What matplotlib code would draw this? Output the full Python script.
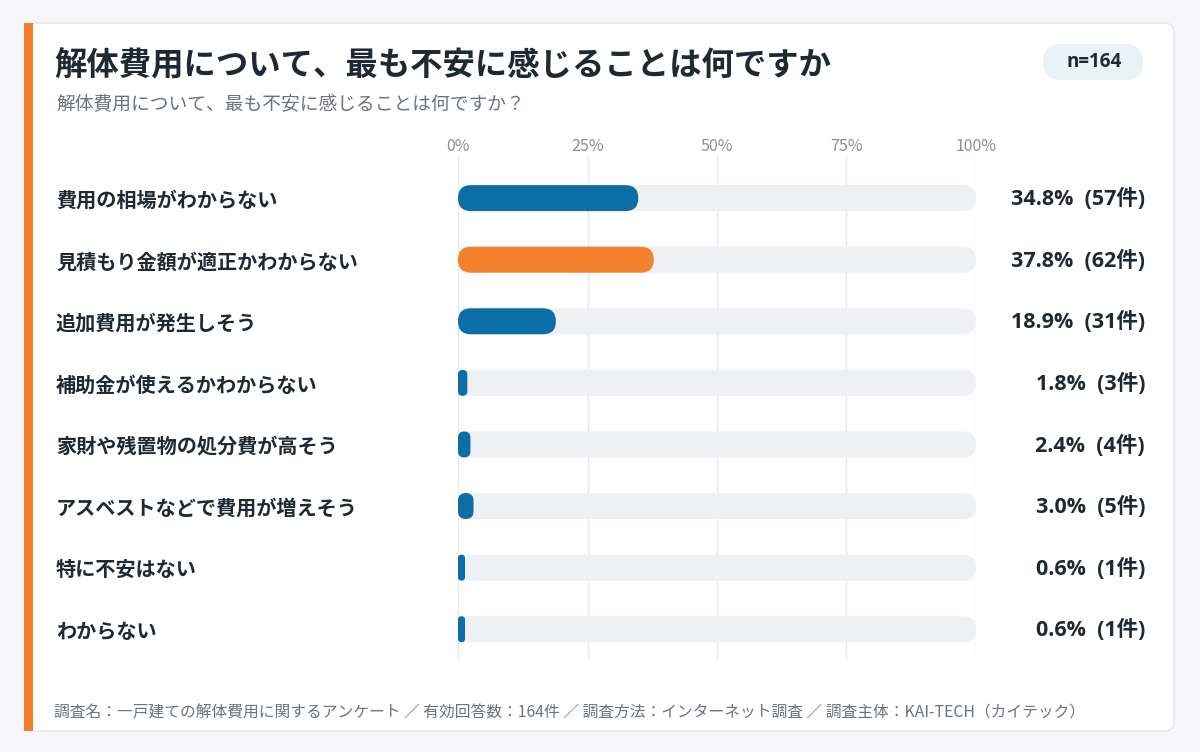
import matplotlib
matplotlib.use('Agg')
import matplotlib.pyplot as plt
from matplotlib.patches import FancyBboxPatch, Rectangle

plt.rcParams['font.family'] = ['Noto Sans CJK JP', 'DejaVu Sans']
LATIN = ['Open Sans', 'Noto Sans CJK JP']  # wider latin digits, CJK falls back

# data
categories = ['費用の相場がわからない', '見積もり金額が適正かわからない', '追加費用が発生しそう',
              '補助金が使えるかわからない', '家財や残置物の処分費が高そう', 'アスベストなどで費用が増えそう',
              '特に不安はない', 'わからない']
percents = [34.8, 37.8, 18.9, 1.8, 2.4, 3.0, 0.6, 0.6]
counts = [57, 62, 31, 3, 4, 5, 1, 1]
xticks = [0, 25, 50, 75, 100]
title = '解体費用について、最も不安に感じることは何ですか'
subtitle = '解体費用について、最も不安に感じることは何ですか？'
n_label = 'n=164'
footer = '調査名：一戸建ての解体費用に関するアンケート ／ 有効回答数：164件 ／ 調査方法：インターネット調査 ／ 調査主体：KAI-TECH（カイテック）'

BLUE = '#0b6ea6'
ORANGE = '#f5802e'
TRACK = '#eef0f4'
DARK = '#1f2933'
GRAY = '#6b7280'

W, H = 1200, 752
fig = plt.figure(figsize=(W / 100, H / 100), dpi=100)
fig.patch.set_facecolor('#f6f6f8')

# background layer in pixel coords
bg = fig.add_axes([0, 0, 1, 1], zorder=0)
bg.set_xlim(0, W)
bg.set_ylim(H, 0)
bg.axis('off')

bg.add_patch(FancyBboxPatch((26, 23), 1148, 708, boxstyle='round,pad=0,rounding_size=10',
                            facecolor='white', edgecolor='#e4e6eb', linewidth=1.0))
bg.add_patch(Rectangle((24, 23), 9, 708, facecolor='#f07c2c', edgecolor='none'))
bg.add_patch(FancyBboxPatch((1043, 44), 100, 36, boxstyle='round,pad=0,rounding_size=18',
                            facecolor='#e9f2f7', edgecolor='none'))
bg.text(1094, 62, n_label, ha='center', va='center', fontsize=13.5, fontweight='bold',
        color=DARK, family=LATIN)
bg.text(54, 66, title, ha='left', va='center', fontsize=23.3, fontweight='bold', color=DARK)
bg.text(56, 104, subtitle, ha='left', va='center', fontsize=13.5, color=GRAY)
bg.text(54, 713, footer, ha='left', va='center', fontsize=11.35, color=GRAY)

# chart axes
ax_l, ax_r, ax_t, ax_b = 458, 976, 155, 660
ax = fig.add_axes([ax_l / W, 1 - ax_b / H, (ax_r - ax_l) / W, (ax_b - ax_t) / H], zorder=1)
ax.set_xlim(0, 100)
ax.set_ylim(len(categories) - 0.5, -0.7)
ax.patch.set_alpha(0)
for s in ax.spines.values():
    s.set_visible(False)

ax.set_xticks(xticks)
ax.set_xticklabels([f'{t}%' for t in xticks], fontsize=11.5, color='#8a8f98')
ax.xaxis.tick_top()
ax.tick_params(axis='x', length=0, pad=0)
ax.set_yticks([])
ax.grid(axis='x', color='#e6e8ee', linewidth=1)
ax.set_axisbelow(True)

px_x = (ax_r - ax_l) / 100.0
px_y = (ax_b - ax_t) / (len(categories) - 0.5 + 0.7)
aspect = px_x / px_y
bar_h = 26 / px_y
rad = 13 / px_x
min_w = 7 / px_x


def pill(x0, w, yc, color, z):
    r = min(rad, w / 2)
    p = FancyBboxPatch((x0, yc - bar_h / 2), w, bar_h,
                       boxstyle=f'round,pad=0,rounding_size={r}',
                       mutation_aspect=aspect, facecolor=color, edgecolor='none', zorder=z)
    ax.add_patch(p)


top = max(percents)
for i, (cat, v, c) in enumerate(zip(categories, percents, counts)):
    pill(0, 100, i, TRACK, 2)
    pill(0, max(v, min_w), i, ORANGE if v == top else BLUE, 3)
    y_px = ax_t + (i + 0.7) * px_y
    bg.text(56, y_px + 2, cat, ha='left', va='center', fontsize=14.5, fontweight='bold', color=DARK)
    bg.text(1145, y_px + 1, f'{v:.1f}%  ({c}件)', ha='right', va='center', fontsize=15.5,
            fontweight='bold', color=DARK, family=LATIN)

fig.savefig('out.png', dpi=100, facecolor=fig.get_facecolor())
